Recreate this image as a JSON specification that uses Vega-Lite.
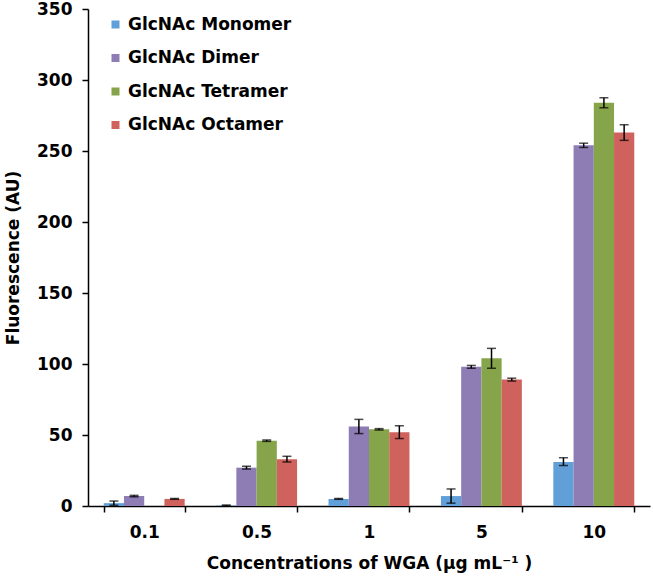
{
  "$schema": "https://vega.github.io/schema/vega-lite/v6.json",
  "width": 562,
  "height": 497,
  "autosize": "none",
  "padding": {"left": 88, "top": 9, "right": 3, "bottom": 70},
  "background": "white",
  "config": {
    "view": {"stroke": null},
    "font": "DejaVu Sans",
    "axis": {"domainColor": "black", "tickColor": "black", "labelColor": "black", "titleColor": "black", "grid": false, "domainWidth": 1.5, "tickWidth": 1.5, "labelFont": "DejaVu Sans", "titleFont": "DejaVu Sans"},
    "legend": {"labelFont": "DejaVu Sans"}
  },
  "data": {
    "values": [
      {"conc": "0.1", "series": "GlcNAc Monomer", "value": 2, "lo": 0.5, "hi": 3.5},
      {"conc": "0.1", "series": "GlcNAc Dimer", "value": 7, "lo": 6.5, "hi": 7.5},
      {"conc": "0.1", "series": "GlcNAc Tetramer", "value": 0, "lo": null, "hi": null},
      {"conc": "0.1", "series": "GlcNAc Octamer", "value": 5, "lo": 4.7, "hi": 5.3},
      {"conc": "0.5", "series": "GlcNAc Monomer", "value": 0.4, "lo": 0.1, "hi": 0.7},
      {"conc": "0.5", "series": "GlcNAc Dimer", "value": 27, "lo": 26, "hi": 28},
      {"conc": "0.5", "series": "GlcNAc Tetramer", "value": 46, "lo": 45.5, "hi": 46.5},
      {"conc": "0.5", "series": "GlcNAc Octamer", "value": 33, "lo": 31, "hi": 35},
      {"conc": "1", "series": "GlcNAc Monomer", "value": 5, "lo": 4.7, "hi": 5.3},
      {"conc": "1", "series": "GlcNAc Dimer", "value": 56, "lo": 51, "hi": 61},
      {"conc": "1", "series": "GlcNAc Tetramer", "value": 54, "lo": 53.5, "hi": 54.5},
      {"conc": "1", "series": "GlcNAc Octamer", "value": 52, "lo": 47.5, "hi": 56.5},
      {"conc": "5", "series": "GlcNAc Monomer", "value": 7, "lo": 2, "hi": 12},
      {"conc": "5", "series": "GlcNAc Dimer", "value": 98, "lo": 97, "hi": 99},
      {"conc": "5", "series": "GlcNAc Tetramer", "value": 104, "lo": 97, "hi": 111},
      {"conc": "5", "series": "GlcNAc Octamer", "value": 89, "lo": 88, "hi": 90},
      {"conc": "10", "series": "GlcNAc Monomer", "value": 31, "lo": 28.5, "hi": 34},
      {"conc": "10", "series": "GlcNAc Dimer", "value": 254, "lo": 252.5, "hi": 255.5},
      {"conc": "10", "series": "GlcNAc Tetramer", "value": 284, "lo": 280.5, "hi": 287.5},
      {"conc": "10", "series": "GlcNAc Octamer", "value": 263, "lo": 257.5, "hi": 268.5}
    ]
  },
  "encoding": {
    "x": {
      "field": "conc", "type": "nominal", "sort": ["0.1", "0.5", "1", "5", "10"],
      "scale": {"paddingInner": 0.28, "paddingOuter": 0.14},
      "axis": {"title": "Concentrations of WGA (µg mL⁻¹ )", "labelAngle": 0, "labelFontSize": 17, "labelFontWeight": "bold", "labelPadding": 12, "titleFontSize": 17, "titleFontWeight": "bold", "titlePadding": 15, "tickBand": "extent", "tickSize": 6}
    },
    "xOffset": {"field": "series", "type": "nominal", "sort": ["GlcNAc Monomer", "GlcNAc Dimer", "GlcNAc Tetramer", "GlcNAc Octamer"], "scale": {"paddingInner": 0, "paddingOuter": 0}}
  },
  "layer": [
    {
      "mark": {"type": "bar"},
      "encoding": {
        "y": {
          "field": "value", "type": "quantitative",
          "scale": {"domain": [0, 350], "nice": false},
          "axis": {"title": "Fluorescence (AU)", "values": [0, 50, 100, 150, 200, 250, 300, 350], "labelFontSize": 17, "labelFontWeight": "bold", "labelPadding": 10, "titleFontSize": 17, "titleFontWeight": "bold", "titlePadding": 14, "tickSize": 6}
        },
        "color": {
          "field": "series", "type": "nominal",
          "scale": {"domain": ["GlcNAc Monomer", "GlcNAc Dimer", "GlcNAc Tetramer", "GlcNAc Octamer"], "range": ["#619fd8", "#8e7cb5", "#86a54a", "#d0625d"]},
          "legend": {"title": null, "orient": "none", "legendX": 19, "legendY": 7, "symbolType": "square", "symbolSize": 64, "symbolStrokeWidth": 0, "labelFontSize": 17, "labelFontWeight": "bold", "labelColor": "black", "labelLimit": 400, "rowPadding": 15.5, "labelOffset": 4}
        }
      }
    },
    {
      "mark": {"type": "rule", "color": "black", "strokeWidth": 1.5},
      "encoding": {
        "y": {"field": "lo", "type": "quantitative"},
        "y2": {"field": "hi"}
      }
    },
    {
      "mark": {"type": "tick", "color": "black", "thickness": 1.5, "size": 9, "orient": "horizontal"},
      "encoding": {"y": {"field": "lo", "type": "quantitative"}}
    },
    {
      "mark": {"type": "tick", "color": "black", "thickness": 1.5, "size": 9, "orient": "horizontal"},
      "encoding": {"y": {"field": "hi", "type": "quantitative"}}
    }
  ]
}
